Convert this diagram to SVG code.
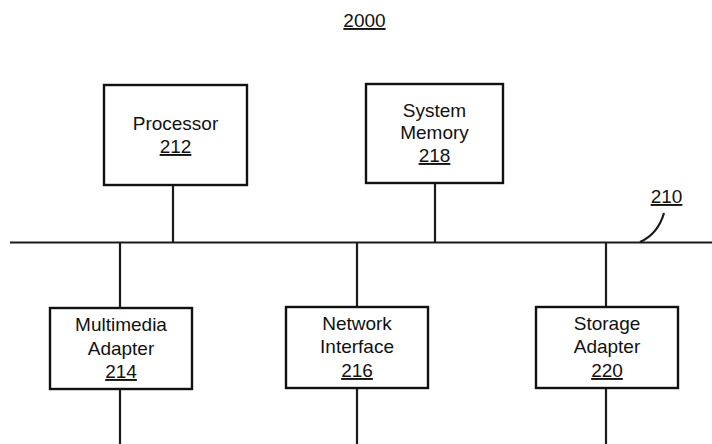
<svg xmlns="http://www.w3.org/2000/svg" width="712" height="444" viewBox="0 0 712 444">
  <style>
    .box { fill: #ffffff; stroke: #111111; stroke-width: 2.4; }
    .wire { fill: none; stroke: #1a1a1a; stroke-width: 2.2; }
    .lbl { font-family: "Liberation Sans", Arial, sans-serif; font-size: 19px; fill: #111111; text-anchor: middle; }
    .ref { text-decoration: underline; }
  </style>
  <rect width="712" height="444" fill="#ffffff"/>

  <text class="lbl ref" x="364.5" y="27">2000</text>

  <g id="connectors">
    <!-- system bus 210 -->
    <line class="wire" x1="10" y1="242.5" x2="712" y2="242.5"/>
    <line class="wire" x1="173" y1="185" x2="173" y2="242.5"/>
    <line class="wire" x1="435" y1="183" x2="435" y2="242.5"/>
    <line class="wire" x1="120" y1="242.5" x2="120" y2="308"/>
    <line class="wire" x1="120" y1="389" x2="120" y2="444"/>
    <line class="wire" x1="357" y1="242.5" x2="357" y2="307"/>
    <line class="wire" x1="357" y1="388" x2="357" y2="444"/>
    <line class="wire" x1="606" y1="242.5" x2="606" y2="307"/>
    <line class="wire" x1="606" y1="388" x2="606" y2="444"/>
    <!-- leader for bus label -->
    <path class="wire" d="M664 213 Q658 234 640 242"/>
  </g>

  <g id="bus-label">
    <text class="lbl ref" x="666.5" y="203">210</text>
  </g>

  <g id="processor">
    <rect class="box" x="104" y="85" width="143" height="100"/>
    <text class="lbl" x="175.5" y="130">Processor</text>
    <text class="lbl ref" x="175.5" y="153">212</text>
  </g>

  <g id="system-memory">
    <rect class="box" x="366" y="84" width="137" height="99"/>
    <text class="lbl" x="434.5" y="117">System</text>
    <text class="lbl" x="434.5" y="139">Memory</text>
    <text class="lbl ref" x="434.5" y="162">218</text>
  </g>

  <g id="multimedia-adapter">
    <rect class="box" x="50" y="308" width="142" height="81"/>
    <text class="lbl" x="121" y="331">Multimedia</text>
    <text class="lbl" x="121" y="355">Adapter</text>
    <text class="lbl ref" x="121" y="378">214</text>
  </g>

  <g id="network-interface">
    <rect class="box" x="286" y="307" width="142" height="81"/>
    <text class="lbl" x="357" y="330">Network</text>
    <text class="lbl" x="357" y="353">Interface</text>
    <text class="lbl ref" x="357" y="377">216</text>
  </g>

  <g id="storage-adapter">
    <rect class="box" x="536" y="307" width="142" height="81"/>
    <text class="lbl" x="607" y="330">Storage</text>
    <text class="lbl" x="607" y="353">Adapter</text>
    <text class="lbl ref" x="607" y="377">220</text>
  </g>
</svg>
